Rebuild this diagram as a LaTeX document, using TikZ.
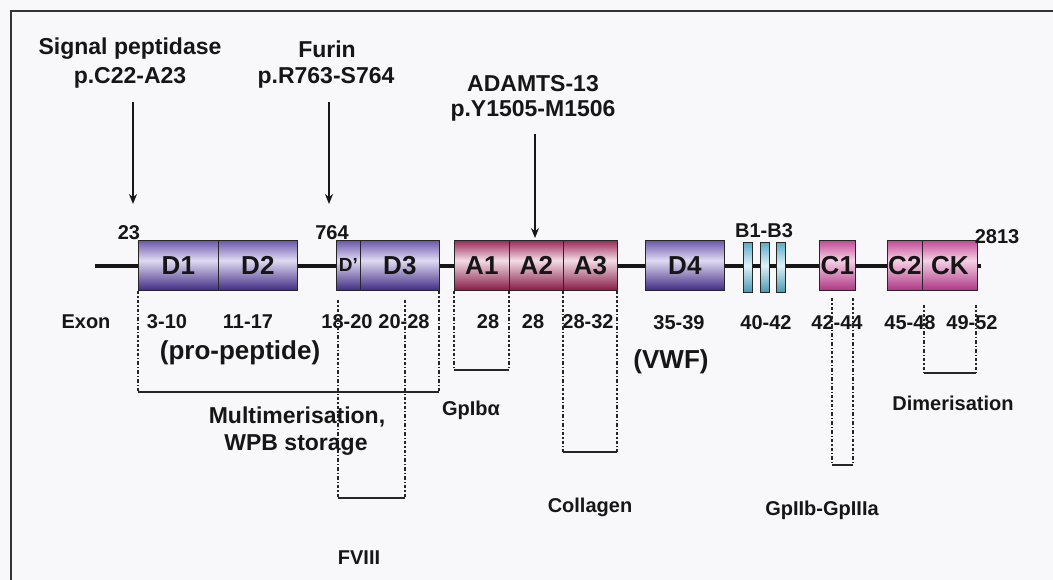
\documentclass[tikz,border=0pt]{standalone}
\usepackage{fontspec}
\setmainfont{Liberation Sans}
\usetikzlibrary{arrows.meta}
\definecolor{txt}{HTML}{161616}
\definecolor{bg}{HTML}{F8F8FA}
\definecolor{frm}{HTML}{333333}
\definecolor{dTop}{HTML}{6A56A8}
\definecolor{dMid}{HTML}{E0DAF2}
\definecolor{dBot}{HTML}{3F2B82}
\definecolor{aTop}{HTML}{982858}
\definecolor{aMid}{HTML}{F3DCE5}
\definecolor{aBot}{HTML}{861A45}
\definecolor{cTop}{HTML}{C04A96}
\definecolor{cMid}{HTML}{F5D0E5}
\definecolor{cBot}{HTML}{AE3786}
\definecolor{bTop}{HTML}{5AACC6}
\definecolor{bMid}{HTML}{E0F2F8}
\definecolor{bBot}{HTML}{4898B4}
\pgfdeclareverticalshading{dsh}{100bp}{color(0bp)=(dBot); color(25bp)=(dBot); color(55bp)=(dMid); color(75bp)=(dTop); color(100bp)=(dTop)}
\pgfdeclareverticalshading{ash}{100bp}{color(0bp)=(aBot); color(25bp)=(aBot); color(55bp)=(aMid); color(75bp)=(aTop); color(100bp)=(aTop)}
\pgfdeclareverticalshading{csh}{100bp}{color(0bp)=(cBot); color(25bp)=(cBot); color(55bp)=(cMid); color(75bp)=(cTop); color(100bp)=(cTop)}
\pgfdeclareverticalshading{bsh}{100bp}{color(0bp)=(bBot); color(25bp)=(bBot); color(52bp)=(bMid); color(75bp)=(bTop); color(100bp)=(bTop)}
\tikzset{
  lbl/.style={font=\fontsize{20}{22}\selectfont\bfseries, text=txt, inner sep=0pt},
  ttl/.style={font=\fontsize{23}{26}\selectfont\bfseries, text=txt, inner sep=0pt},
  big/.style={font=\fontsize{26}{28}\selectfont\bfseries, text=txt, inner sep=0pt},
  box/.style={draw=black!85, line width=0.7pt, inner sep=0pt, minimum height=50pt,
    anchor=north west, font=\fontsize{26}{28}\selectfont\bfseries, text=txt},
  dbox/.style={box, shading=dsh},
  abox/.style={box, shading=ash},
  cbox/.style={box, shading=csh},
  bbar/.style={box, minimum height=50pt, minimum width=9pt, shading=bsh},
  arr/.style={line width=1.3pt, draw=txt, -{Stealth[length=10pt,width=8pt]}},
  dd/.style={line width=1.3pt, draw=black!85, dash pattern=on 3.5pt off 2pt on 1.3pt off 2pt},
  brk/.style={line width=1.4pt, draw=black!85}
}
\begin{document}
\begin{tikzpicture}[x=1pt,y=-1pt]
\fill[bg] (0,0) rectangle (1053,580);
\useasboundingbox (0,0) rectangle (1053,580);
% frame
\draw[frm, line width=2pt] (11,580) -- (11,11) -- (1053,11);

% titles
\node[ttl] (sp1) at (130,49) {Signal peptidase};
\node[ttl] (sp2) at (130,78) {p.C22-A23};
\node[ttl] (fu1) at (327,49) {Furin};
\node[ttl] (fu2) at (326,78) {p.R763-S764};
\node[ttl] (ad1) at (533,84) {ADAMTS-13};
\node[ttl] (ad2) at (533,111) {p.Y1505-M1506};

% backbone
\coordinate (bbL) at (95,266);
\coordinate (bbR) at (981,266);
\draw[line width=4pt, txt] (bbL) -- (bbR);

% domains
\node[dbox, minimum width=80pt] (D1) at (138,240) {D1};
\node[dbox, minimum width=79pt] (D2) at (218,240) {D2};
\node[dbox, minimum width=24pt, font=\fontsize{19}{20}\selectfont\bfseries] (Dp) at (336,240) {D’};
\node[dbox, minimum width=79pt] (D3) at (360,240) {D3};
\node[abox, minimum width=55pt] (A1) at (454,240) {A1};
\node[abox, minimum width=54pt] (A2) at (509,240) {A2};
\node[abox, minimum width=54pt] (A3) at (563,240) {A3};
\node[dbox, minimum width=79pt] (D4) at (645,240) {D4};
\node[bbar] (B1) at (743,242) {};
\node[bbar] (B2) at (760,242) {};
\node[bbar] (B3) at (776,242) {};
\node[cbox, minimum width=36pt] (C1) at (819,240) {C1};
\node[cbox, minimum width=35pt] (C2) at (887,240) {C2};
\node[cbox, minimum width=55pt] (CK) at (922,240) {CK};

% position numbers
\node[lbl] (n23) at (129,233) {23};
\node[lbl] (n764) at (332,233) {764};
\node[lbl] (nB) at (764,231) {B1-B3};
\node[lbl] (n2813) at (997,237) {2813};

% cleavage arrows
\coordinate (a1s) at (133,102); \coordinate (a1e) at (133,204);
\coordinate (a2s) at (329,102); \coordinate (a2e) at (329,204);
\coordinate (a3s) at (535,134); \coordinate (a3e) at (535,238);
\draw[arr] (a1s) -- (a1e);
\draw[arr] (a2s) -- (a2e);
\draw[arr] (a3s) -- (a3e);

% exon row
\node[lbl] (exon) at (86,322) {Exon};
\node[lbl] (e1) at (167,322) {3-10};
\node[lbl] (e2) at (248,322) {11-17};
\node[lbl] (e3) at (347,322) {18-20};
\node[lbl] (e4) at (404,322) {20-28};
\node[lbl] (e5) at (488,322) {28};
\node[lbl] (e6) at (533,322) {28};
\node[lbl] (e7) at (588,322) {28-32};
\node[lbl] (e8) at (679,323) {35-39};
\node[lbl] (e9) at (766,323) {40-42};
\node[lbl] (e10) at (837,323) {42-44};
\node[lbl] (e11) at (910,323) {45-48};
\node[lbl] (e12) at (972,323) {49-52};

\node[big] (pro) at (240,353) {(pro-peptide)};
\node[big] (vwf) at (671,362) {(VWF)};

% brackets: pro-peptide / multimerisation
\coordinate (p1t) at (138,291); \coordinate (p1b) at (138,392);
\coordinate (p2t) at (439,291); \coordinate (p2b) at (439,392);
\draw[dd] (p1t) -- (p1b);
\draw[dd] (p2t) -- (p2b);
\draw[brk] (p1b) -- (p2b);
% FVIII
\coordinate (f1t) at (338,300); \coordinate (f1b) at (338,498);
\coordinate (f2t) at (405,300); \coordinate (f2b) at (405,498);
\draw[dd] (f1t) -- (f1b);
\draw[dd] (f2t) -- (f2b);
\draw[brk] (f1b) -- (f2b);
% GpIb
\coordinate (g1t) at (454,291); \coordinate (g1b) at (454,370);
\coordinate (g2t) at (509,291); \coordinate (g2b) at (509,370);
\draw[dd] (g1t) -- (g1b);
\draw[dd] (g2t) -- (g2b);
\draw[brk] (g1b) -- (g2b);
% Collagen
\coordinate (c1t) at (563,291); \coordinate (c1b) at (563,452);
\coordinate (c2t) at (617,291); \coordinate (c2b) at (617,452);
\draw[dd] (c1t) -- (c1b);
\draw[dd] (c2t) -- (c2b);
\draw[brk] (c1b) -- (c2b);
% GpIIb-GpIIIa
\coordinate (i1t) at (832,298); \coordinate (i1b) at (832,465);
\coordinate (i2t) at (853,298); \coordinate (i2b) at (853,465);
\draw[dd] (i1t) -- (i1b);
\draw[dd] (i2t) -- (i2b);
\draw[brk] (i1b) -- (i2b);
% Dimerisation
\coordinate (m1t) at (924,305); \coordinate (m1b) at (924,373);
\coordinate (m2t) at (976,305); \coordinate (m2b) at (976,373);
\draw[dd] (m1t) -- (m1b);
\draw[dd] (m2t) -- (m2b);
\draw[brk] (m1b) -- (m2b);

% function labels
\node[ttl] (mult) at (297,417) {Multimerisation,};
\node[ttl] (wpb) at (296,445) {WPB storage};
\node[lbl] (gpib) at (471,410) {GpIbα};
\node[lbl] (fviii) at (359,558) {FVIII};
\node[lbl] (coll) at (590,507) {Collagen};
\node[lbl] (gp2) at (822,510) {GpIIb-GpIIIa};
\node[lbl] (dim) at (953,403) {Dimerisation};
\end{tikzpicture}
\end{document}
